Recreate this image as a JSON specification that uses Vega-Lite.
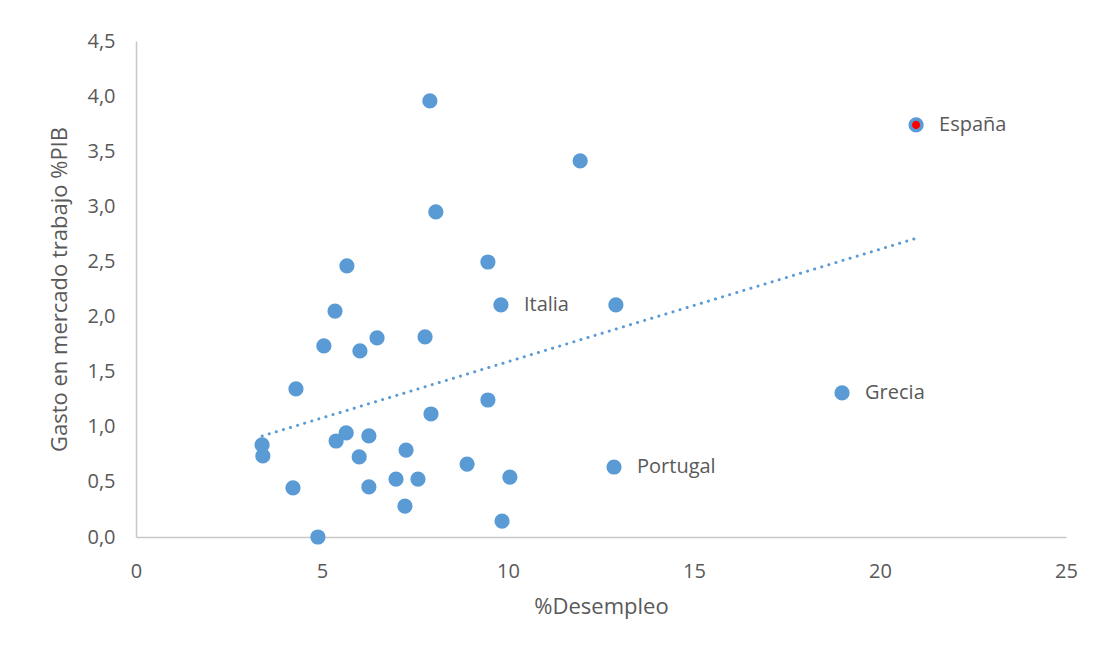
{
  "$schema": "https://vega.github.io/schema/vega-lite/v6.json",
  "width": 930,
  "height": 496,
  "autosize": {"type": "none"},
  "padding": {"left": 136, "top": 41, "right": 34, "bottom": 115},
  "background": "white",
  "config": {
    "locale": {"number": {"decimal": ",", "thousands": ".", "grouping": [3], "currency": ["", " €"]}},
    "view": {"stroke": null},
    "font": "Open Sans",
    "axis": {
      "grid": false,
      "ticks": false,
      "labelFlush": false,
      "labelOverlap": false,
      "domainColor": "#C8C8C8",
      "domainWidth": 1.5,
      "labelColor": "#595959",
      "labelFontSize": 20,
      "labelFont": "Open Sans",
      "titleColor": "#595959",
      "titleFontSize": 22,
      "titleFont": "Open Sans",
      "titleFontWeight": "normal"
    }
  },
  "data": {
    "values": [
      {"x": 4.89, "y": 0.0, "pais": ""},
      {"x": 3.39, "y": 0.835, "pais": ""},
      {"x": 3.41, "y": 0.735, "pais": ""},
      {"x": 4.22, "y": 0.445, "pais": ""},
      {"x": 4.30, "y": 1.343, "pais": ""},
      {"x": 5.05, "y": 1.733, "pais": ""},
      {"x": 5.35, "y": 2.05, "pais": ""},
      {"x": 5.67, "y": 2.46, "pais": ""},
      {"x": 5.38, "y": 0.871, "pais": ""},
      {"x": 5.65, "y": 0.944, "pais": ""},
      {"x": 6.02, "y": 1.688, "pais": ""},
      {"x": 6.48, "y": 1.806, "pais": ""},
      {"x": 6.00, "y": 0.726, "pais": ""},
      {"x": 6.26, "y": 0.917, "pais": ""},
      {"x": 6.26, "y": 0.454, "pais": ""},
      {"x": 6.99, "y": 0.526, "pais": ""},
      {"x": 7.23, "y": 0.281, "pais": ""},
      {"x": 7.26, "y": 0.789, "pais": ""},
      {"x": 7.58, "y": 0.526, "pais": ""},
      {"x": 7.77, "y": 1.815, "pais": ""},
      {"x": 7.93, "y": 1.116, "pais": ""},
      {"x": 7.90, "y": 3.956, "pais": ""},
      {"x": 8.06, "y": 2.949, "pais": ""},
      {"x": 8.90, "y": 0.662, "pais": ""},
      {"x": 9.46, "y": 2.495, "pais": ""},
      {"x": 9.46, "y": 1.243, "pais": ""},
      {"x": 9.81, "y": 2.105, "pais": "Italia"},
      {"x": 9.84, "y": 0.145, "pais": ""},
      {"x": 10.05, "y": 0.544, "pais": ""},
      {"x": 11.94, "y": 3.412, "pais": ""},
      {"x": 12.85, "y": 0.635, "pais": "Portugal"},
      {"x": 12.90, "y": 2.105, "pais": ""},
      {"x": 18.98, "y": 1.307, "pais": "Grecia"},
      {"x": 20.97, "y": 3.739, "pais": "España"}
    ]
  },
  "encoding": {
    "x": {
      "field": "x",
      "type": "quantitative",
      "scale": {"domain": [0, 25], "nice": false, "zero": false},
      "axis": {"values": [0, 5, 10, 15, 20, 25], "title": "%Desempleo", "labelPadding": 24, "titlePadding": 15, "format": "d"}
    },
    "y": {
      "field": "y",
      "type": "quantitative",
      "scale": {"domain": [0, 4.5], "nice": false},
      "axis": {"values": [0, 0.5, 1, 1.5, 2, 2.5, 3, 3.5, 4, 4.5], "format": ".1f", "title": "Gasto en mercado trabajo %PIB", "labelPadding": 21, "titlePadding": 15}
    }
  },
  "layer": [
    {
      "transform": [{"regression": "y", "on": "x"}],
      "mark": {"type": "line", "color": "#5B9BD5", "strokeWidth": 3, "strokeDash": [0.1, 7.3], "strokeCap": "round"}
    },
    {
      "mark": {"type": "point", "shape": "circle", "filled": true, "size": 135, "stroke": "#5B9BD5", "strokeWidth": 3.6, "opacity": 1},
      "encoding": {
        "fill": {
          "condition": {"test": "datum.pais === 'España'", "value": "#FF0000"},
          "value": "#5B9BD5"
        }
      }
    },
    {
      "transform": [{"filter": "datum.pais !== ''"}],
      "mark": {"type": "text", "align": "left", "baseline": "middle", "dx": 23, "fontSize": 20, "color": "#595959", "font": "Open Sans"},
      "encoding": {"text": {"field": "pais"}}
    }
  ]
}
